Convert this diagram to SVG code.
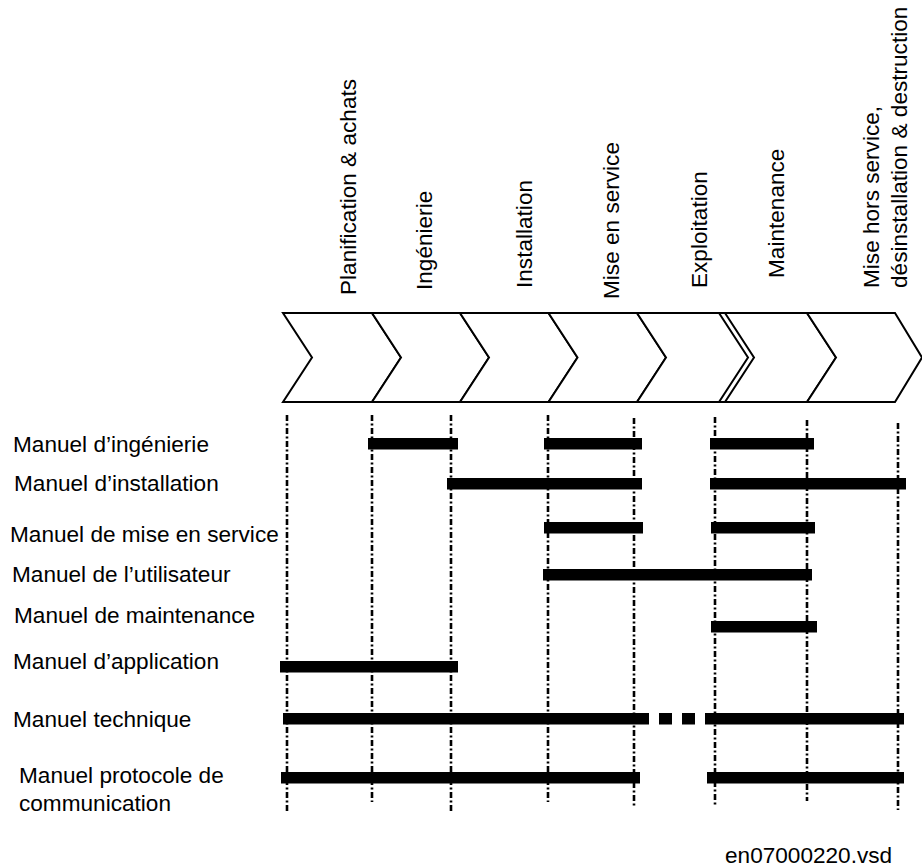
<svg xmlns="http://www.w3.org/2000/svg" width="922" height="868" viewBox="0 0 922 868">
<style>
text { font-family: "Liberation Sans", Arial, sans-serif; font-size: 22.6px; fill: #000; }
.chev { fill: #fff; stroke: #000; stroke-width: 2; stroke-linejoin: miter; }
.guide { stroke: #000; stroke-width: 2.6; stroke-dasharray: 6 2.5 2 2.5; fill: none; }
.bar { fill: #000; }
</style>
<rect width="922" height="868" fill="#fff"/>

<g id="phase-planification">
<polygon class="chev" points="283,313 372,313 401,357.5 372,402 283,402 312,357.5"/>
<text transform="translate(356,295) rotate(-90)">Planification &amp; achats</text>
</g>
<g id="phase-ingenierie">
<polygon class="chev" points="372,313 460,313 489,357.5 460,402 372,402 401,357.5"/>
<text transform="translate(431.5,290) rotate(-90)">Ingénierie</text>
</g>
<g id="phase-installation">
<polygon class="chev" points="460,313 548.5,313 577.5,357.5 548.5,402 460,402 489,357.5"/>
<text transform="translate(532,288) rotate(-90)">Installation</text>
</g>
<g id="phase-mise-en-service">
<polygon class="chev" points="548.5,313 637,313 666,357.5 637,402 548.5,402 577.5,357.5"/>
<text transform="translate(619,299) rotate(-90)">Mise en service</text>
</g>
<g id="phase-exploitation">
<polygon class="chev" points="637,313 719,313 748,357.5 719,402 637,402 666,357.5"/>
<text transform="translate(707,288) rotate(-90)">Exploitation</text>
</g>
<g id="phase-maintenance">
<polygon class="chev" points="725,313 807,313 836,357.5 807,402 725,402 754,357.5"/>
<text transform="translate(784,278) rotate(-90)">Maintenance</text>
</g>
<g id="phase-mise-hors-service">
<polygon class="chev" points="807,313 895,313 922,357.5 895,402 807,402 836,357.5"/>
<text transform="translate(879,288) rotate(-90)">Mise hors service,</text>
<text transform="translate(907,288) rotate(-90)">désinstallation &amp; destruction</text>
</g>
<g id="chevron-gap">
<line x1="718" y1="313" x2="726" y2="313" stroke="#000" stroke-width="2"/>
<line x1="718" y1="402" x2="726" y2="402" stroke="#000" stroke-width="2"/>
</g>

<g id="connectors">
<line class="guide" x1="287" y1="415" x2="287" y2="812"/>
<line class="guide" x1="372" y1="415" x2="372" y2="802"/>
<line class="guide" x1="451" y1="415" x2="451" y2="811"/>
<line class="guide" x1="548" y1="415" x2="548" y2="802"/>
<line class="guide" x1="634" y1="418" x2="634" y2="807"/>
<line class="guide" x1="715" y1="417" x2="715" y2="806"/>
<line class="guide" x1="807" y1="420" x2="807" y2="801"/>
<line class="guide" x1="898" y1="423" x2="898" y2="810"/>
</g>

<g id="row-ingenierie">
<text x="13" y="452">Manuel d’ingénierie</text>
<rect class="bar" x="368" y="438" width="90" height="11.5"/>
<rect class="bar" x="544" y="438" width="98" height="11.5"/>
<rect class="bar" x="710" y="438" width="104" height="11.5"/>
</g>
<g id="row-installation">
<text x="14" y="491">Manuel d’installation</text>
<rect class="bar" x="447" y="478" width="195" height="11.5"/>
<rect class="bar" x="710" y="478" width="196" height="11.5"/>
</g>
<g id="row-mise-en-service">
<text x="10" y="542">Manuel de mise en service</text>
<rect class="bar" x="544" y="522" width="99" height="11.5"/>
<rect class="bar" x="711" y="522" width="104" height="11.5"/>
</g>
<g id="row-utilisateur">
<text x="12" y="582">Manuel de l’utilisateur</text>
<rect class="bar" x="543" y="569" width="269" height="11.5"/>
</g>
<g id="row-maintenance">
<text x="14" y="623">Manuel de maintenance</text>
<rect class="bar" x="711" y="621" width="106" height="11.5"/>
</g>
<g id="row-application">
<text x="13" y="669">Manuel d’application</text>
<rect class="bar" x="280" y="661" width="178" height="11.5"/>
</g>
<g id="row-technique">
<text x="13" y="727">Manuel technique</text>
<rect class="bar" x="283" y="713" width="366" height="11.5"/>
<rect class="bar" x="659" y="713" width="13" height="11.5"/>
<rect class="bar" x="682" y="713" width="13" height="11.5"/>
<rect class="bar" x="705" y="713" width="199" height="11.5"/>
</g>
<g id="row-protocole">
<text x="19" y="783">Manuel protocole de</text>
<text x="19" y="811">communication</text>
<rect class="bar" x="281" y="772" width="359" height="11.5"/>
<rect class="bar" x="707" y="772" width="197" height="11.5"/>
</g>

<text id="file-ref" x="725" y="863">en07000220.vsd</text>
</svg>
